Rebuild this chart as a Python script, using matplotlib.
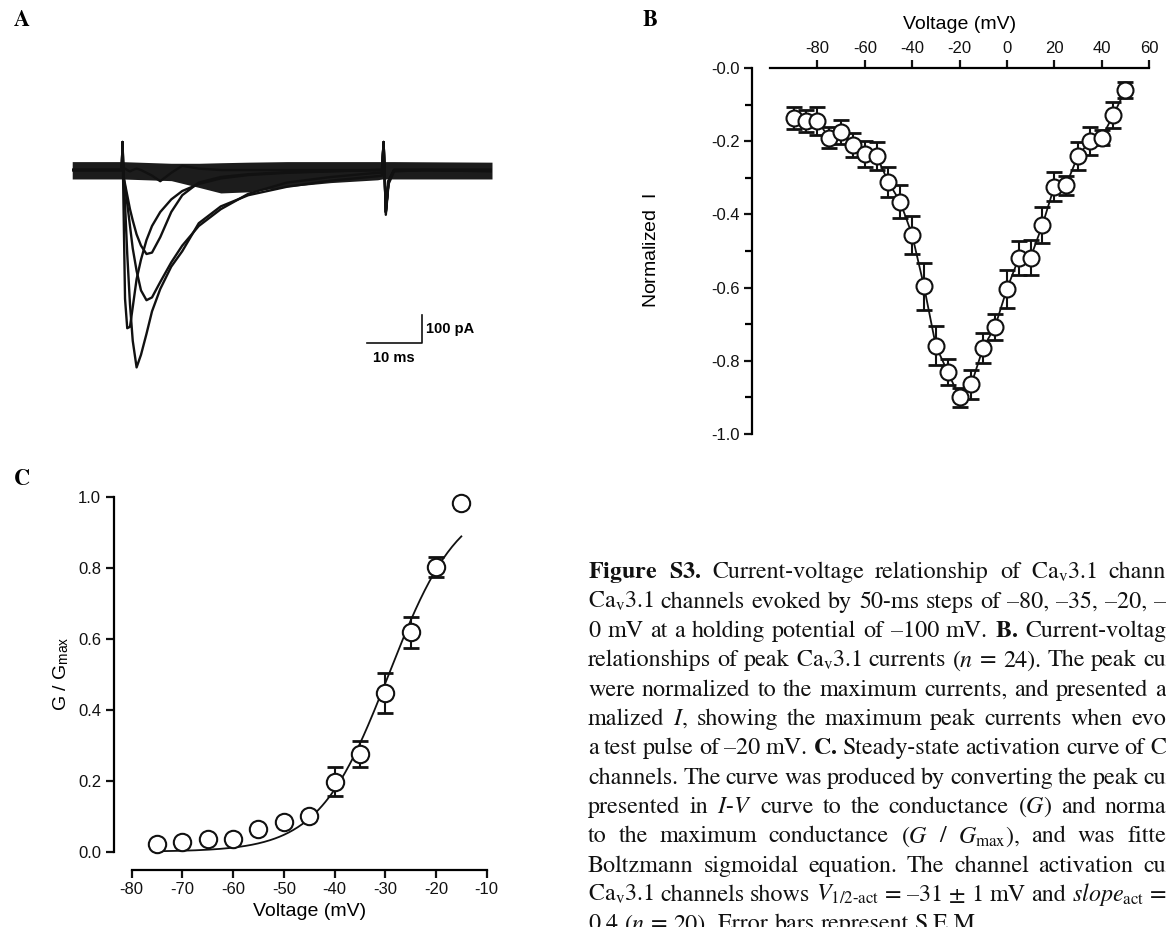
import numpy as np
import matplotlib
matplotlib.use('Agg')
import matplotlib.pyplot as plt

plt.rcParams['font.family'] = ['Liberation Sans', 'DejaVu Sans']
plt.rcParams['mathtext.fontset'] = 'stix'
plt.rcParams['axes.unicode_minus'] = False

# ---- panel A: representative current traces (ms, pA) ----
trace_t = [-9, -0.1, 0.0, 0.15, 0.3, 0.6, 1.0, 1.5, 2.0, 2.7, 3.5, 4.5, 5.5, 7, 9, 11,
           14, 18, 23, 30, 38, 46.5, 47.3, 47.6, 48.0, 48.5, 49.5, 55, 67.3]
trace_m80 = [0, 0, 0, 100, 0, 5, 0, -5, 0, 5, 0, -10, -20, -40, -10, 15,
             5, 0, 0, 0, 0, 0, 0, 100, -150, -40, 0, 0, -5]
trace_m35 = [0, 0, 0, 100, -20, -50, -90, -140, -180, -230, -270, -300, -295, -240, -150, -90,
             -45, -25, -15, -8, -4, 0, 0, 100, -150, -40, 0, 0, 0]
trace_m20 = [0, 0, 0, 100, -30, -120, -300, -480, -610, -705, -660, -585, -505, -425, -345, -290,
             -190, -130, -90, -60, -38, -22, -20, 100, -160, -50, -5, 0, 0]
trace_m10 = [0, 0, 0, 100, -20, -60, -120, -200, -280, -360, -430, -465, -455, -400, -330, -270,
             -200, -140, -85, -45, -25, -10, -10, 100, -150, -40, 0, 0, 0]
trace_0 = [0, 0, 0, 100, -100, -460, -565, -560, -490, -390, -320, -250, -200, -150, -105, -75,
           -50, -30, -18, -10, -5, 0, 0, 100, -150, -40, 0, 0, 0]
# envelope of the noisy baseline / tails
band_t = [-9, 0, 9, 14, 18, 23, 30, 38, 46.5, 47.3, 49.5, 67.3]
band_lo = [-32, -32, -38, -62, -82, -78, -60, -45, -35, -32, -32, -32]
band_hi = [30, 30, 24, 24, 26, 28, 30, 30, 30, 30, 30, 28]

# ---- panel B: I-V relationship ----
v_iv = [-90, -85, -80, -75, -70, -65, -60, -55, -50, -45, -40, -35, -30, -25, -20,
        -15, -10, -5, 0, 5, 10, 15, 20, 25, 30, 35, 40, 45, 50]
iv_mean = [-0.137, -0.145, -0.145, -0.19, -0.175, -0.21, -0.235, -0.24, -0.312, -0.366,
           -0.456, -0.596, -0.759, -0.83, -0.90, -0.864, -0.764, -0.707, -0.604, -0.52,
           -0.518, -0.429, -0.324, -0.32, -0.24, -0.20, -0.19, -0.128, -0.06]
iv_err = [0.03, 0.03, 0.038, 0.029, 0.032, 0.032, 0.036, 0.038, 0.041, 0.045,
          0.052, 0.064, 0.053, 0.036, 0.025, 0.04, 0.041, 0.036, 0.053, 0.046,
          0.048, 0.048, 0.04, 0.026, 0.039, 0.039, 0.02, 0.035, 0.021]

# ---- panel C: activation curve ----
v_act = [-75, -70, -65, -60, -55, -50, -45, -40, -35, -30, -25, -20, -15]
g_mean = [0.022, 0.026, 0.035, 0.037, 0.063, 0.083, 0.101, 0.197, 0.275, 0.446, 0.618, 0.801, 0.981]
g_err = [0.004, 0.004, 0.005, 0.005, 0.006, 0.008, 0.01, 0.041, 0.037, 0.056, 0.043, 0.028, 0.01]
# Boltzmann fit parameters
v_half = -29.3
slope_k = 6.9

W, H = 1166, 927
fig = plt.figure(figsize=(W / 100, H / 100), dpi=100)


def px_axes(x0, y0, x1, y1):
    # axes from pixel box (top-left origin)
    return fig.add_axes([x0 / W, 1 - y1 / H, (x1 - x0) / W, (y1 - y0) / H])


off = 18 * 0.72  # outward offset of spines in points
tick_kw = dict(direction='out', length=6, width=1.6, labelsize=12, colors='#111')

# ---------- A ----------
axA = px_axes(72, 130, 492, 380)
axA.axis('off')
axA.set_xlim(-9.04, 67.3)
axA.set_ylim(-750, 142.9)
axA.fill_between(band_t, band_lo, band_hi, color='#1c1c1c', lw=0)
for tr in [trace_m80, trace_m35, trace_m20, trace_m10, trace_0]:
    axA.plot(trace_t, tr, color='#111', lw=1.7)
# scale bar
axA.plot([44.5, 54.5, 54.5], [-618, -618, -518], color='#111', lw=1.2)
axA.text(55.3, -568, '100 pA', fontsize=10.5, fontweight='bold', va='center', ha='left')
axA.text(49.4, -671, '10 ms', fontsize=10.5, fontweight='bold', va='center', ha='center')

# ---------- B ----------
axB = px_axes(770, 68, 1149, 434)
axB.set_xlim(-100, 60)
axB.set_ylim(-1.0, 0.0)
axB.plot(v_iv, iv_mean, color='#111', lw=1.3, zorder=2)
axB.errorbar(v_iv, iv_mean, yerr=iv_err, fmt='none', ecolor='#111', elinewidth=1.5,
             capsize=6, capthick=2, zorder=3, clip_on=False)
axB.plot(v_iv, iv_mean, 'o', ms=11.5, mfc='white', mec='#111', mew=1.5, zorder=4, clip_on=False)
for s in ['right', 'bottom']:
    axB.spines[s].set_visible(False)
axB.spines['left'].set_position(('outward', off))
for s in ['left', 'top']:
    axB.spines[s].set_linewidth(1.6)
axB.xaxis.tick_top()
axB.xaxis.set_label_position('top')
axB.set_xticks([-80, -60, -40, -20, 0, 20, 40, 60])
axB.set_yticks([-1.0, -0.8, -0.6, -0.4, -0.2, 0.0])
axB.set_yticklabels(['-1.0', '-0.8', '-0.6', '-0.4', '-0.2', '-0.0'])
axB.set_yticks([-0.9, -0.7, -0.5, -0.3, -0.1], minor=True)
axB.tick_params(**tick_kw, pad=3)
axB.tick_params(axis='y', which='minor', direction='out', length=5, width=1.6)
axB.set_xlabel('Voltage (mV)', fontsize=14, labelpad=8)
axB.set_ylabel('Normalized  $\\mathregular{I}$', fontsize=14)
axB.yaxis.set_label_coords(-0.29, 0.5)

# ---------- C ----------
axC = px_axes(131.7, 496.7, 486.7, 851.7)
axC.set_xlim(-80, -10)
axC.set_ylim(0, 1.0)
v_fit = np.linspace(v_act[0], v_act[-1], 200)
axC.plot(v_fit, 1 / (1 + np.exp((v_half - v_fit) / slope_k)), color='#111', lw=1.3, zorder=2)
axC.errorbar(v_act, g_mean, yerr=g_err, fmt='none', ecolor='#111', elinewidth=1.5,
             capsize=6, capthick=2, zorder=3, clip_on=False)
axC.plot(v_act, g_mean, 'o', ms=12.5, mfc='white', mec='#111', mew=1.5, zorder=4, clip_on=False)
for s in ['right', 'top']:
    axC.spines[s].set_visible(False)
for s in ['left', 'bottom']:
    axC.spines[s].set_position(('outward', off))
    axC.spines[s].set_linewidth(1.6)
axC.set_xticks([-80, -70, -60, -50, -40, -30, -20, -10])
axC.set_yticks([0.0, 0.2, 0.4, 0.6, 0.8, 1.0])
axC.set_yticklabels(['0.0', '0.2', '0.4', '0.6', '0.8', '1.0'])
axC.tick_params(**tick_kw, pad=3)
axC.set_xlabel('Voltage (mV)', fontsize=14, labelpad=4)
axC.set_ylabel('G / G$_\\mathregular{max}$', fontsize=14)
axC.yaxis.set_label_coords(-0.17, 0.5)

# ---------- panel letters ----------
for lab, x, y in [('A', 22, 21), ('B', 650, 21), ('C', 22, 480)]:
    fig.text(x / W, 1 - y / H, lab, fontsize=16, fontweight='bold', family='STIXGeneral',
             ha='center', va='center')

# ---------- caption: justified lines that run off the right edge of the page ----------
# (line text, part of the last word still visible before the edge)
caption = [
    (r"$\mathbf{Figure}$ $\mathbf{S3.}$ Current-voltage relationship of Ca$_\mathregular{v}$3.1 channels", "chann"),
    (r"Ca$_\mathregular{v}$3.1 channels evoked by 50-ms steps of –80, –35, –20, –10,", "–"),
    (r"0 mV at a holding potential of –100 mV. $\mathbf{B.}$ Current-voltage", "Current-voltag"),
    (r"relationships of peak Ca$_\mathregular{v}$3.1 currents ($n$ = 24). The peak currents", "cu"),
    (r"were normalized to the maximum currents, and presented as", "a"),
    (r"malized $I$, showing the maximum peak currents when evoked", "evo"),
    (r"a test pulse of –20 mV. $\mathbf{C.}$ Steady-state activation curve of Ca$_\mathregular{v}$3.1", "C"),
    (r"channels. The curve was produced by converting the peak currents", "cu"),
    (r"presented in $I$-$V$ curve to the conductance ($G$) and normalized", "norma"),
    (r"to the maximum conductance ($G$ / $G_\mathregular{max}$), and was fitted", "fitte"),
    (r"Boltzmann sigmoidal equation. The channel activation curve", "cu"),
    (r"Ca$_\mathregular{v}$3.1 channels shows $V_\mathregular{1/2‐act}$ = –31 ± 1 mV and $slope_\mathregular{act}$ =", "="),
    (r"0.4 ($n$ = 20). Error bars represent S.E.M.", None),
]
cap_fs = 17.3
x_left, x_edge = 588, 1166
renderer = fig.canvas.get_renderer()


def text_width(s):
    t = fig.text(0, 0, s, fontsize=cap_fs, family='STIXGeneral')
    w = t.get_window_extent(renderer=renderer).width
    t.remove()
    return w


space_w = text_width('a a') - text_width('aa')
for i, (line, partial) in enumerate(caption):
    y = 1 - (578.4 + 29.33 * i) / H
    words = line.split(' ')
    widths = [text_width(w) for w in words]
    if partial is None:
        gap = space_w
    else:
        used = sum(widths[:-1]) + text_width(partial)
        gap = max(2.5, (x_edge - x_left - used) / (len(words) - 1))
    x = x_left
    for w, wd in zip(words, widths):
        fig.text(x / W, y, w, fontsize=cap_fs, family='STIXGeneral',
                 ha='left', va='baseline', color='#111')
        x += wd + gap

fig.savefig('out.png', dpi=100)
